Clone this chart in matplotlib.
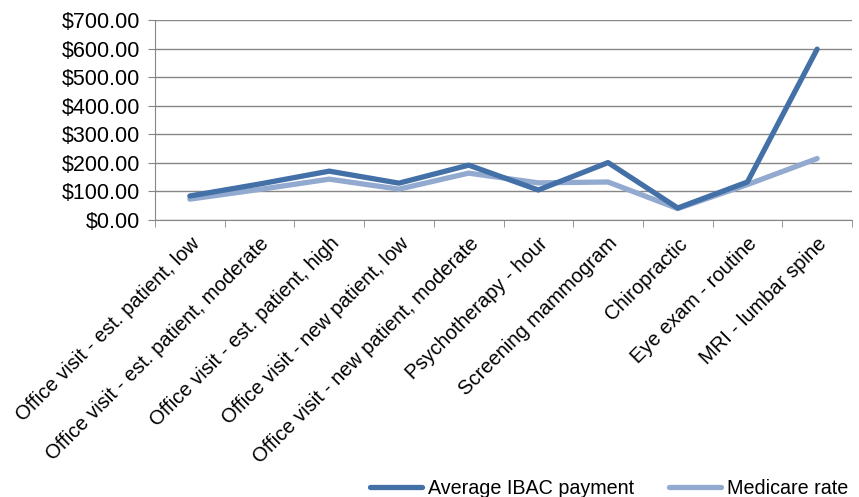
import numpy as np
import matplotlib
matplotlib.use('Agg')
import matplotlib.pyplot as plt
from matplotlib.ticker import FuncFormatter, FixedLocator

categories = ['Office visit - est. patient, low',
              'Office visit - est. patient, moderate',
              'Office visit - est. patient, high',
              'Office visit - new patient, low',
              'Office visit - new patient, moderate',
              'Psychotherapy - hour',
              'Screening mammogram',
              'Chiropractic',
              'Eye exam - routine',
              'MRI - lumbar spine']
ibac = [84, 126, 171, 129, 192, 105, 201, 42, 133, 598]
medicare = [73, 107, 143, 108, 164, 130, 133, 40, 124, 215]

plt.rcParams['font.family'] = ['Liberation Sans', 'DejaVu Sans']

W, H = 859, 497
fig = plt.figure(figsize=(W / 100, H / 100), dpi=100)
ax = fig.add_axes([155 / W, 1 - 220 / H, (852 - 155) / W, 200 / H])

x = np.arange(len(categories))
ax.plot(x, ibac, color='#4470a8', lw=3.8, solid_capstyle='round',
        solid_joinstyle='round', label='Average IBAC payment', zorder=3)
ax.plot(x, medicare, color='#93aad0', lw=3.8, solid_capstyle='round',
        solid_joinstyle='round', label='Medicare rate', zorder=2)

ax.set_xlim(-0.5, len(categories) - 0.5)
ax.set_ylim(0, 700)
ax.set_yticks(np.arange(0, 701, 100))
ax.yaxis.set_major_formatter(FuncFormatter(lambda v, p: f'${v:,.2f}'))
ax.yaxis.grid(True, color='#868686', lw=1)
ax.set_axisbelow(True)

ax.set_xticks(x)
ax.set_xticklabels(categories, rotation=45, ha='right', rotation_mode='anchor',
                   fontsize=14.5)
ax.tick_params(axis='x', which='major', length=0, pad=10)
ax.xaxis.set_minor_locator(FixedLocator(np.arange(-0.5, len(categories), 1)))
ax.tick_params(axis='x', which='minor', length=5, color='#868686')
ax.tick_params(axis='y', length=5, color='#868686', labelsize=15.5, pad=6)

for s in ['top', 'right']:
    ax.spines[s].set_visible(False)
for s in ['left', 'bottom']:
    ax.spines[s].set_color('#868686')

fig.legend(loc='center left', bbox_to_anchor=(370 / W, 1 - 488 / H), ncol=2,
           frameon=False, fontsize=14.2, handlelength=2.65, columnspacing=1.75,
           handletextpad=0.3, borderpad=0, borderaxespad=0)

fig.savefig('out.png', dpi=100)
